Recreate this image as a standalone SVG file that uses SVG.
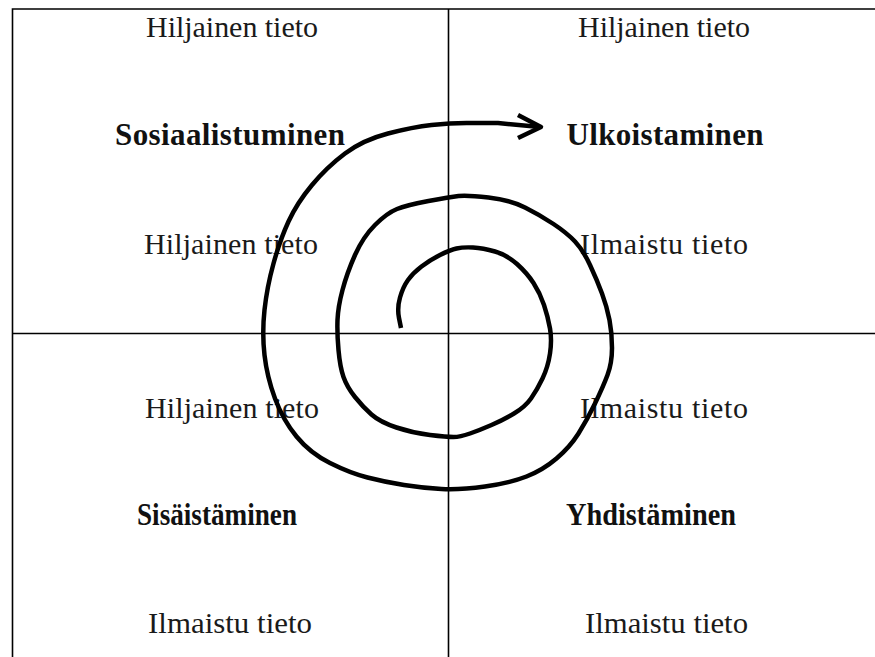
<svg xmlns="http://www.w3.org/2000/svg" width="875" height="657" viewBox="0 0 875 657">
<style>
.t{font-family:"Liberation Serif","Times New Roman",serif;font-size:30px;fill:#1a1a1a;text-anchor:middle}
.b{font-family:"Liberation Serif","Times New Roman",serif;font-size:31px;font-weight:bold;fill:#111;text-anchor:middle}
.grid{stroke:#000;stroke-width:1.6;fill:none}
.sp{stroke:#000;stroke-width:4.5;fill:none;stroke-linejoin:round;stroke-linecap:butt}
</style>
<rect width="875" height="657" fill="#fff"/>
<g id="grid">
<path class="grid" d="M12.5,657 V9 H875 M448.5,9 V657 M12.5,333.5 H875"/>
</g>
<g id="q1">
<text class="t" x="232" y="37" textLength="172">Hiljainen tieto</text>
<text class="b" x="230" y="145" textLength="230">Sosiaalistuminen</text>
<text class="t" x="231" y="254" textLength="174">Hiljainen tieto</text>
</g>
<g id="q2">
<text class="t" x="664" y="37" textLength="172">Hiljainen tieto</text>
<text class="b" x="665" y="145" textLength="197">Ulkoistaminen</text>
<text class="t" x="664" y="254" textLength="168">Ilmaistu tieto</text>
</g>
<g id="q3">
<text class="t" x="232" y="418" textLength="174">Hiljainen tieto</text>
<text class="b" x="217" y="525" textLength="160" lengthAdjust="spacingAndGlyphs">Sisäistäminen</text>
<text class="t" x="230" y="633" textLength="164" lengthAdjust="spacingAndGlyphs">Ilmaistu tieto</text>
</g>
<g id="q4">
<text class="t" x="664" y="418" textLength="168">Ilmaistu tieto</text>
<text class="b" x="651" y="525" textLength="170" lengthAdjust="spacingAndGlyphs">Yhdistäminen</text>
<text class="t" x="666.5" y="633" textLength="163" lengthAdjust="spacingAndGlyphs">Ilmaistu tieto</text>
</g>
<g id="connectors">
<path class="sp" d="M401,328 L399,318 Q397,308 400,297.5 Q403,287 408,280 Q413,273 421.5,266.5 Q430,260 440,255 Q450,250 456.5,248.5 Q463,247 473,247.5 Q483,248 495,251.5 Q507,255 517,264 Q527,273 533.5,283 Q540,293 544,305 Q548,317 550,328.5 Q552,340 550,353.5 Q548,367 542.5,378.5 Q537,390 531,398.5 Q525,407 514,413.5 Q503,420 491.5,425 Q480,430 470,433.5 Q460,437 453.5,437 Q447,437 430,435 Q413,433 396.5,427.5 Q380,422 371.5,414.5 Q363,407 355,397 Q347,387 343.5,377 Q340,367 338.5,350 Q337,333 337.5,320 Q338,307 342.5,290 Q347,273 355,255 Q363,237 375,225 Q387,213 397,209 Q407,205 428.5,201 Q450,197 458.5,196 Q467,195 488.5,197.5 Q510,200 525,207.5 Q540,215 553.5,224 Q567,233 575,241.5 Q583,250 590,265 Q597,280 602,293.5 Q607,307 609.5,320 Q612,333 612,348 Q612,363 607.5,375 Q603,387 595,403.5 Q587,420 578.5,433.5 Q570,447 556.5,458.5 Q543,470 526.5,476.5 Q510,483 485,486.5 Q460,490 441.5,489 Q423,488 404,485 Q385,482 367.5,477.5 Q350,473 330,463 Q310,453 296.5,436.5 Q283,420 275,398.5 Q267,377 264.5,355 Q262,333 264.5,310 Q267,287 273.5,263.5 Q280,240 288.5,221.5 Q297,203 312,185 Q327,167 345,153.5 Q363,140 388,133.5 Q413,127 431.5,125 Q450,123 466.5,123 Q483,123 498,123 L540,127"/>
<polyline class="sp" points="518,115 541,127 518,138" stroke-linecap="round"/>
</g>
</svg>
